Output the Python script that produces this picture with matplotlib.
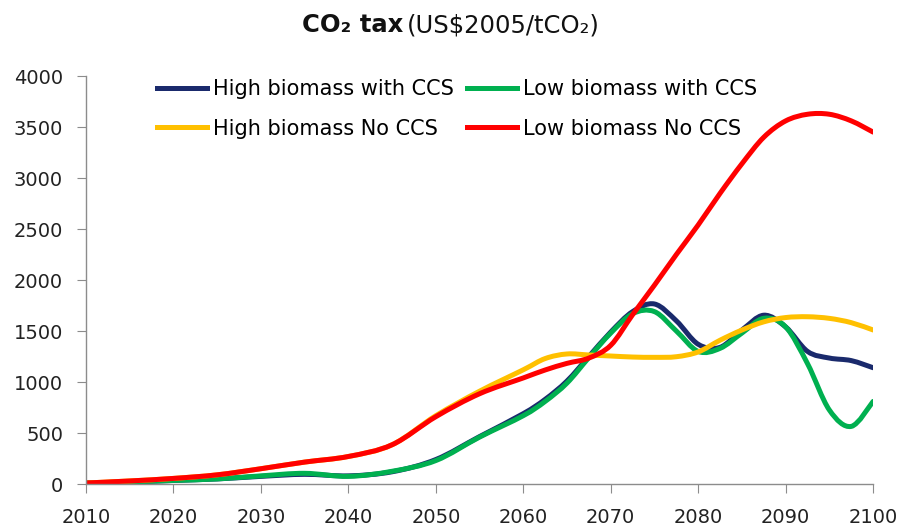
import numpy as np
import matplotlib
matplotlib.use('Agg')
import matplotlib.pyplot as plt
from matplotlib.path import Path
from matplotlib.patches import PathPatch
from matplotlib.lines import Line2D

# Data (US$2005/tCO2)
years = [2010, 2015, 2020, 2025, 2030, 2035, 2040, 2045, 2050, 2055, 2060,
         2062.5, 2065, 2067.5, 2070, 2072.5, 2075, 2077.5, 2080, 2082.5,
         2085, 2087.5, 2090, 2092.5, 2095, 2097.5, 2100]
high_ccs = [10, 20, 35, 50, 75, 95, 80, 120, 240, 465, 690,
            830, 1010, 1250, 1490, 1690, 1765, 1600, 1370, 1340,
            1510, 1655, 1540, 1300, 1235, 1210, 1140]
low_ccs = [10, 20, 35, 50, 80, 105, 75, 125, 230, 460, 670,
           810, 990, 1240, 1480, 1670, 1690, 1500, 1300, 1330,
           1480, 1625, 1540, 1180, 725, 565, 810]
high_noccs = [10, 30, 55, 90, 150, 215, 270, 385, 670, 910, 1120,
              1230, 1275, 1265, 1255, 1245, 1242, 1248, 1295, 1410,
              1510, 1590, 1632, 1640, 1624, 1582, 1510]
low_noccs = [10, 30, 55, 90, 150, 215, 270, 385, 660, 885, 1040,
             1118, 1183, 1235, 1360, 1660, 1950, 2250, 2540, 2850,
             3140, 3400, 3560, 3625, 3625, 3560, 3450]

labels = ['High biomass with CCS', 'Low biomass with CCS',
          'High biomass No CCS', 'Low biomass No CCS']
colors = ['#1a2a6c', '#00b050', '#ffc000', '#ff0000']
series = [high_ccs, low_ccs, high_noccs, low_noccs]


def smooth_path(xs, ys):
    # excel style smoothed line: cubic bezier through every point
    p = np.column_stack([xs, ys]).astype(float)
    n = len(p)
    verts = [p[0]]
    codes = [Path.MOVETO]
    for i in range(n - 1):
        p0 = p[i - 1] if i > 0 else p[i]
        p3 = p[i + 2] if i + 2 < n else p[i + 1]
        c1 = p[i] + (p[i + 1] - p0) / 6.0
        c2 = p[i + 1] - (p3 - p[i]) / 6.0
        verts += [c1, c2, p[i + 1]]
        codes += [Path.CURVE4] * 3
    return Path(verts, codes)


fig = plt.figure(figsize=(9.02, 5.26), dpi=100)
ax = fig.add_axes([0.0953, 0.0798, 0.8727, 0.7757])

for vals, c in zip(series, colors):
    ax.add_patch(PathPatch(smooth_path(years, vals), facecolor='none',
                           edgecolor=c, lw=3.6, capstyle='round',
                           joinstyle='round'))

ax.set_xlim(2010, 2100)
ax.set_ylim(0, 4000)
ax.set_xticks(np.arange(2010, 2101, 10))
ax.set_yticks(np.arange(0, 4001, 500))

for s in ['top', 'right']:
    ax.spines[s].set_visible(False)
for s in ['left', 'bottom']:
    ax.spines[s].set_color('#8c8c8c')
    ax.spines[s].set_linewidth(1.0)
ax.tick_params(direction='out', length=6.5, color='#8c8c8c',
               labelsize=14, labelcolor='#222222')
ax.tick_params(axis='x', pad=11)
ax.tick_params(axis='y', pad=10)

# legend, column-wise order
handles = [Line2D([], [], color=c, lw=3.6) for c in colors]
order = [0, 2, 1, 3]
ax.legend([handles[i] for i in order], [labels[i] for i in order],
          ncol=2, loc='upper left', bbox_to_anchor=(0.0902, 0.993),
          frameon=False, borderpad=0, borderaxespad=0,
          handlelength=2.4, handletextpad=0.3,
          columnspacing=0.62, labelspacing=0.95,
          prop={'family': 'DejaVu Sans', 'size': 15})

# title: bold part + normal part
fig.text(0.447, 0.952, 'CO\u2082 tax', ha='right', va='center',
         fontsize=17.5, fontweight='bold', color='#111111')
fig.text(0.451, 0.952, '(US$2005/tCO\u2082)', ha='left', va='center',
         fontsize=17.5, color='#111111')

fig.savefig('out.png', dpi=100)
